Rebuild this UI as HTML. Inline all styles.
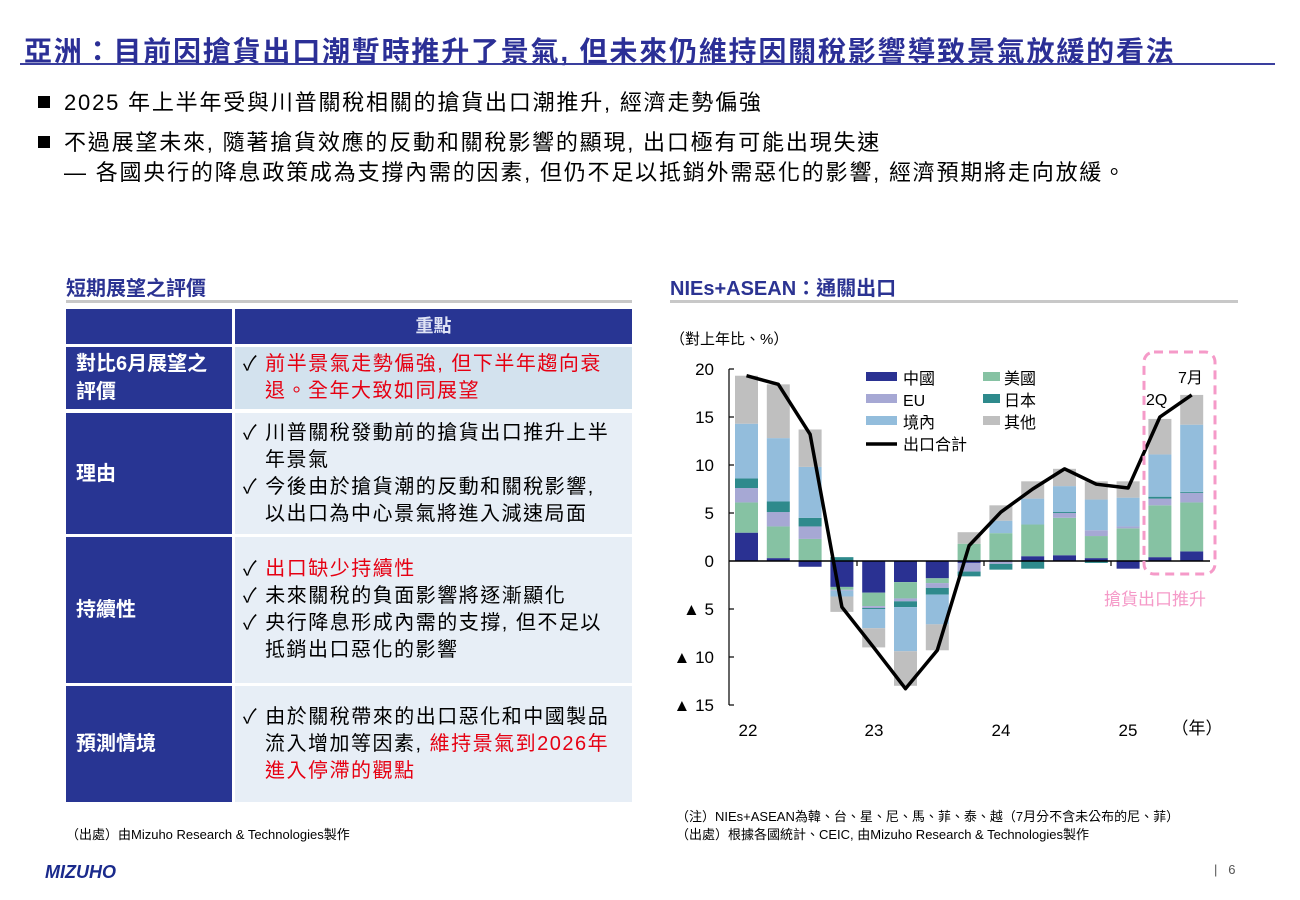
<!DOCTYPE html>
<html><head><meta charset="utf-8">
<style>
body{margin:0;width:1300px;height:900px;background:#fff;font-family:"Liberation Sans","Noto Sans CJK TC",sans-serif;position:relative;overflow:hidden;color:#000}
.a{position:absolute;white-space:nowrap}
.title{left:24px;top:30px;font-size:28px;font-weight:bold;color:#2b2f96;letter-spacing:1.8px}
.tl{left:20px;top:63px;width:1255px;height:2px;background:#3a3f9e}
.b{font-size:22px;letter-spacing:1.8px}
.sq{display:inline-block;width:12px;height:12px;background:#000;margin-right:14px;vertical-align:2px}
.sub{font-size:20px;font-weight:bold;color:#2b3392}
.cell{position:absolute;box-sizing:border-box}
.h{background:#283593;color:#fff}
.c1{color:#fff;font-size:20px;font-weight:bold;padding-left:10px;display:flex;align-items:center;line-height:28px}
.c2{font-size:20px;line-height:27px;display:flex;flex-direction:column;justify-content:center;padding-left:8px;letter-spacing:1.5px}
.r{color:#e60012}
.it{padding-left:22px;text-indent:-22px}
.sm{font-size:13px}
</style></head><body>
<div class="a title">亞洲：目前因搶貨出口潮暫時推升了景氣, 但未來仍維持因關稅影響導致景氣放緩的看法</div>
<div class="a tl"></div>
<div class="a b" style="left:38px;top:85px"><span class="sq"></span>2025 年上半年受與川普關稅相關的搶貨出口潮推升, 經濟走勢偏強</div>
<div class="a b" style="left:38px;top:125px"><span class="sq"></span>不過展望未來, 隨著搶貨效應的反動和關稅影響的顯現, 出口極有可能出現失速</div>
<div class="a b" style="left:64px;top:155px">— 各國央行的降息政策成為支撐內需的因素, 但仍不足以抵銷外需惡化的影響, 經濟預期將走向放緩。</div>

<div class="a sub" style="left:66px;top:272px">短期展望之評價</div>
<div class="a" style="left:66px;top:300px;width:566px;height:3px;background:#c8c8c8"></div>
<div class="cell h" style="left:66px;top:309px;width:166px;height:35px"></div>
<div class="cell h" style="left:235px;top:309px;width:397px;height:35px;text-align:center;font-size:18px;font-weight:bold;line-height:35px;color:#dfe3f5">重點</div>

<div class="cell h c1" style="left:66px;top:347px;width:166px;height:62px">對比6月展望之<br>評價</div>
<div class="cell c2" style="left:235px;top:347px;width:397px;height:62px;background:#d3e2ee"><div class="it">✓ <span class="r">前半景氣走勢偏強, 但下半年趨向衰退。全年大致如同展望</span></div></div>

<div class="cell h c1" style="left:66px;top:413px;width:166px;height:121px">理由</div>
<div class="cell c2" style="left:235px;top:413px;width:397px;height:121px;background:#e7eef6"><div class="it">✓ 川普關稅發動前的搶貨出口推升上半<br>年景氣</div><div class="it">✓ 今後由於搶貨潮的反動和關稅影響,<br>以出口為中心景氣將進入減速局面</div></div>

<div class="cell h c1" style="left:66px;top:537px;width:166px;height:146px">持續性</div>
<div class="cell c2" style="left:235px;top:537px;width:397px;height:146px;background:#e7eef6"><div class="it">✓ <span class="r">出口缺少持續性</span></div><div class="it">✓ 未來關稅的負面影響將逐漸顯化</div><div class="it">✓ 央行降息形成內需的支撐, 但不足以<br>抵銷出口惡化的影響</div></div>

<div class="cell h c1" style="left:66px;top:686px;width:166px;height:116px">預測情境</div>
<div class="cell c2" style="left:235px;top:686px;width:397px;height:116px;background:#e7eef6"><div class="it">✓ 由於關稅帶來的出口惡化和中國製品<br>流入增加等因素, <span class="r">維持景氣到2026年<br>進入停滯的觀點</span></div></div>

<div class="a sm" style="left:66px;top:824px">（出處）由Mizuho Research &amp; Technologies製作</div>

<div class="a sub" style="left:670px;top:272px;color:#2b3392">NIEs+ASEAN：通關出口</div>
<div class="a" style="left:670px;top:300px;width:568px;height:3px;background:#c8c8c8"></div>
<div class="a" style="left:670px;top:328px;font-size:15px">（對上年比、%）</div>

<svg class="a" style="left:0;top:0" width="1300" height="900" id="ch">
<g font-size="17" text-anchor="end" font-family="Liberation Sans,Noto Sans CJK TC,sans-serif">
<text x="714" y="375">20</text><text x="714" y="423">15</text><text x="714" y="471">10</text>
<text x="714" y="519">5</text><text x="714" y="567">0</text><text x="714" y="615">▲ 5</text>
<text x="714" y="663">▲ 10</text><text x="714" y="711">▲ 15</text>
</g>
<g font-size="17" text-anchor="middle" font-family="Liberation Sans,Noto Sans CJK TC,sans-serif">
<text x="748" y="736">22</text><text x="874" y="736">23</text><text x="1001" y="736">24</text><text x="1128" y="736">25</text><text x="1197" y="734">（年）</text>
</g>
<g id="bars"></g>
<line x1="729" y1="369" x2="729" y2="705" stroke="#000" stroke-width="1.2"/>
<g stroke="#000" stroke-width="1.2"><line x1="729" y1="369" x2="734" y2="369"/><line x1="729" y1="417" x2="734" y2="417"/><line x1="729" y1="465" x2="734" y2="465"/><line x1="729" y1="513" x2="734" y2="513"/><line x1="729" y1="609" x2="734" y2="609"/><line x1="729" y1="657" x2="734" y2="657"/><line x1="729" y1="705" x2="734" y2="705"/>
<line x1="857" y1="561" x2="857" y2="566"/><line x1="984" y1="561" x2="984" y2="566"/><line x1="1111" y1="561" x2="1111" y2="566"/></g>
<line x1="729" y1="561" x2="1210" y2="561" stroke="#000" stroke-width="1.5"/>
<polyline id="ln" fill="none" stroke="#000" stroke-width="3.5" stroke-linejoin="round"/>
<rect x="1144" y="352" width="71" height="222" rx="10" fill="none" stroke="#f59ac8" stroke-width="3" stroke-dasharray="9,6"/>
<text x="1155" y="605" font-size="17" fill="#f59ac8" font-family="Liberation Sans,Noto Sans CJK TC,sans-serif" text-anchor="middle">搶貨出口推升</text>
<text x="1178" y="383" font-size="16" font-family="Liberation Sans,Noto Sans CJK TC,sans-serif">7月</text>
<text x="1146" y="405" font-size="16" font-family="Liberation Sans,Noto Sans CJK TC,sans-serif">2Q</text>
<g font-size="16" font-family="Liberation Sans,Noto Sans CJK TC,sans-serif">
<rect x="866" y="372" width="31" height="9" fill="#2a3192"/><text x="903" y="384">中國</text>
<rect x="866" y="394" width="31" height="9" fill="#a6a8d4"/><text x="903" y="406">EU</text>
<rect x="866" y="416" width="31" height="9" fill="#93bddc"/><text x="903" y="428">境內</text>
<line x1="866" y1="444" x2="897" y2="444" stroke="#000" stroke-width="3.5"/><text x="903" y="450">出口合計</text>
<rect x="983" y="372" width="17" height="9" fill="#86c2a3"/><text x="1004" y="384">美國</text>
<rect x="983" y="394" width="17" height="9" fill="#2e8a8c"/><text x="1004" y="406">日本</text>
<rect x="983" y="416" width="17" height="9" fill="#bfbfbf"/><text x="1004" y="428">其他</text>
</g>
</svg>
<div class="a sm" style="left:676px;top:806px">（注）NIEs+ASEAN為韓、台、星、尼、馬、菲、泰、越（7月分不含未公布的尼、菲）</div>
<div class="a sm" style="left:676px;top:824px">（出處）根據各國統計、CEIC, 由Mizuho Research &amp; Technologies製作</div>
<div class="a" style="left:45px;top:862px;font-size:18px;font-weight:bold;font-style:italic;color:#1a2a8c">MIZUHO</div>
<div class="a" style="left:1214px;top:862px;font-size:13px;color:#555">|&nbsp;&nbsp;&nbsp;6</div>
<script>
var C=["#2a3192","#86c2a3","#a6a8d4","#2e8a8c","#93bddc","#bfbfbf"];
var D=[[2.95,3.15,1.5,1,5.7,5],[0.3,3.3,1.5,1.1,6.6,5.6],[-0.6,2.3,1.3,0.9,5.3,3.9],
[-2.7,-0.3,-0.1,0.4,-0.6,-1.6],[-3.3,-1.4,-0.2,-0.1,-2,-2],[-2.2,-1.7,-0.3,-0.6,-4.6,-3.6],
[-1.8,-0.5,-0.5,-0.7,-3.1,-2.7],[-0.2,1.8,-0.9,-0.5,0,1.2],[0,2.9,-0.3,-0.6,1.3,1.6],
[0.5,3.3,0,-0.8,2.7,1.8],[0.6,3.9,0.5,0.1,2.7,1.8],[0.3,2.3,0.6,-0.2,3.2,1.9],
[-0.8,3.4,0.2,0,3,1.7],[0.4,5.4,0.7,0.2,4.4,3.7],[1.0,5.1,1.0,0.1,7,3.1]];
var L=[19.3,18.4,13.2,-4.8,-9.0,-13.3,-9.3,1.6,5.1,7.5,9.6,8.0,7.6,15.0,17.3];
var s="",p=[];
function Y(v){return 561-v*9.6}
D.forEach(function(d,i){var x=735+31.8*i,pos=0,neg=0;
d.forEach(function(v,k){var a,b;if(v>=0){a=pos;b=pos+v;pos=b}else{a=neg;b=neg+v;neg=b}
var y1=Y(Math.max(a,b)),y2=Y(Math.min(a,b));s+='<rect x="'+x+'" y="'+y1+'" width="23" height="'+(y2-y1)+'" fill="'+C[k]+'"/>'});
p.push((x+11.5)+","+Y(L[i]))});
document.getElementById("bars").innerHTML=s;
document.getElementById("ln").setAttribute("points",p.join(" "));
</script>
</body></html>
